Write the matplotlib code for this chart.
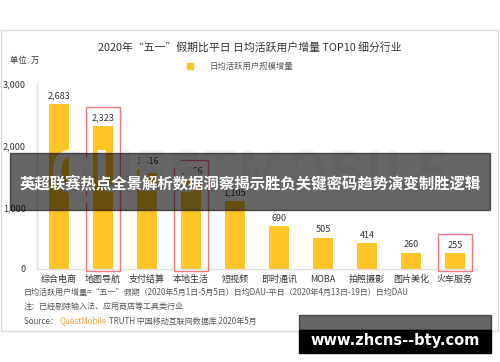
import matplotlib
matplotlib.use("Agg")
import matplotlib.pyplot as plt
from matplotlib.patches import Rectangle

plt.rcParams['font.family'] = ['Noto Sans CJK SC', 'DejaVu Sans']

# データ
categories = ["综合电商", "地图导航", "支付结算", "本地生活", "短视频",
              "即时通讯", "MOBA", "拍照摄影", "图片美化", "火车服务"]
values = [2683, 2323, 1616, 1466, 1105, 690, 505, 414, 260, 255]
highlight = ["地图导航", "本地生活", "火车服务"]
yticks = [0, 1000, 2000, 3000]

W, H = 500, 362

def fy(y):
    # ピクセル座標 -> 図の座標
    return 1 - y / H

def fx(x):
    return x / W

fig = plt.figure(figsize=(5, 3.62), dpi=100)
fig.patch.set_facecolor("white")

# 外枠
fig.patches.append(Rectangle((fx(1), fy(331)), fx(497), 301 / H, transform=fig.transFigure,
                             fill=False, edgecolor="#dddddd", linewidth=1))

# 透かし
fig.text(0.5, fy(175), "QUESTMOBILE", ha="center", va="center", fontsize=40,
         color="#f5f5f5", fontweight="bold", zorder=0)

ax = fig.add_axes([fx(37), fy(269), fx(440), 185 / H])
ax.set_facecolor("none")
x = range(len(categories))
ax.bar(x, values, width=0.46, color="#FFC425", zorder=2)
for i, v in enumerate(values):
    ax.text(i, v + 60, f"{v:,}", ha="center", va="bottom", fontsize=6.5, color="#333333")
    if categories[i] in highlight:
        ax.add_patch(Rectangle((i - 0.38, -25), 0.76, v + 330, fill=False,
                               edgecolor="#F07884", linewidth=1, clip_on=False, zorder=3))

ax.set_xlim(-0.5, 9.5)
ax.set_ylim(0, 3000)
ax.set_yticks(yticks)
ax.set_yticklabels([f"{t:,}" for t in yticks], fontsize=6.5, color="#333333")
ax.set_xticks(list(x))
ax.set_xticklabels(categories, fontsize=6.5, color="#333333")
ax.tick_params(length=0, pad=4)
ax.tick_params(axis="y", pad=8)
for s in ["top", "right"]:
    ax.spines[s].set_visible(False)
for s in ["left", "bottom"]:
    ax.spines[s].set_color("#e0e0e0")
    ax.spines[s].set_linewidth(1)

# タイトル等
fig.text(0.5, fy(47), "2020年“五一”假期比平日 日均活跃用户增量 TOP10 细分行业",
         ha="center", va="center", fontsize=7.8, color="#333333")
fig.text(fx(10), fy(60), "单位: 万", ha="left", va="center", fontsize=6, color="#333333")
fig.patches.append(Rectangle((fx(187), fy(69)), fx(6), 6 / H, transform=fig.transFigure,
                             color="#FFC425"))
fig.text(fx(210), fy(66), "日均活跃用户规模增量", ha="left", va="center", fontsize=6, color="#555555")

# 注釈
fs = 5.8
fig.text(fx(24), fy(292), "日均活跃用户增量=“五一”假期（2020年5月1日-5月5日）日均DAU-平日（2020年4月13日-19日）日均DAU",
         ha="left", va="center", fontsize=fs, color="#555555")
fig.text(fx(24), fy(306), "注：已经剔除输入法、应用商店等工具类行业",
         ha="left", va="center", fontsize=fs, color="#555555")
t1 = fig.text(fx(24), fy(321), "Source： ", ha="left", va="center", fontsize=fs, color="#555555")
fig.canvas.draw()
bb = t1.get_window_extent()
t2 = fig.text(bb.x1 / W, fy(321), "QuestMobile", ha="left", va="center", fontsize=fs, color="#F7A33B")
fig.canvas.draw()
bb = t2.get_window_extent()
fig.text(bb.x1 / W + 0.004, fy(321), "TRUTH 中国移动互联网数据库 2020年5月", ha="left", va="center",
         fontsize=fs, color="#555555")

# バナー
fig.patches.append(Rectangle((fx(10), fy(210)), fx(480), 57 / H, transform=fig.transFigure,
                             color="black", alpha=0.6, zorder=10))
fig.text(0.5, fy(183), "英超联赛热点全景解析数据洞察揭示胜负关键密码趋势演变制胜逻辑",
         ha="center", va="center", fontsize=11.1, fontweight="bold", color="white", zorder=11)

fig.patches.append(Rectangle((fx(299), fy(330)), fx(192), 15 / H, transform=fig.transFigure,
                             color="black", alpha=0.6, zorder=10))
fig.patches.append(Rectangle((fx(299), fy(353)), fx(192), 23 / H, transform=fig.transFigure,
                             color="black", zorder=10))
fig.text(fx(395), fy(341), "www.zhcns--bty.com", ha="center", va="center", fontsize=10.5,
         fontweight="bold", color="white", family="DejaVu Sans", zorder=11)

fig.savefig("out.png", dpi=100)
